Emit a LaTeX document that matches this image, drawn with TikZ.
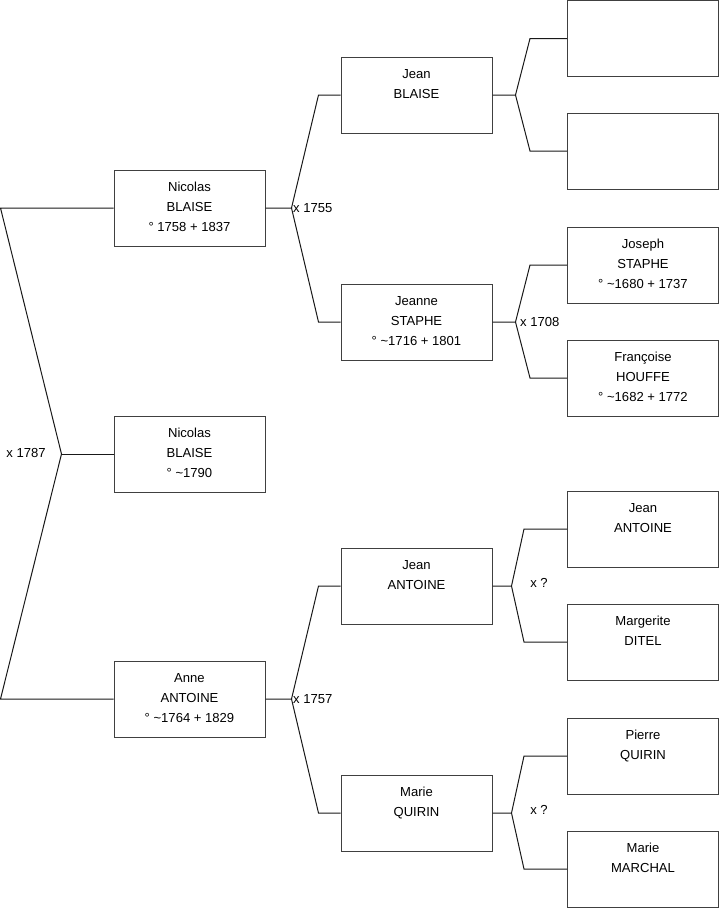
\documentclass[tikz,border=0pt]{standalone}
\usepackage{fontspec}
\setmainfont{Liberation Sans}
\usetikzlibrary{calc}

\newcommand{\lastline}{\rule[-2pt]{0pt}{2pt}}

\begin{document}
\begin{tikzpicture}[x=0.75pt, y=-0.75pt,
    person/.style={rectangle, draw=black!75, line width=0.75pt, minimum width=113.25pt, minimum height=57pt, inner sep=0pt, align=center, font=\fontsize{9.8}{15}\selectfont},
    link/.style={draw=black!90, line width=0.75pt},
    union/.style={inner sep=1pt, font=\fontsize{9.8}{15}\selectfont}]
    \useasboundingbox (0,0) rectangle (719,908);

    % generation 1
    \node[person] (nicolas) at (189.5,208) {Nicolas\\BLAISE\\° 1758 + 1837\lastline};
    \node[person] (child) at (189.5,454) {Nicolas\\BLAISE\\° \textasciitilde1790\lastline};
    \node[person] (anne) at (189.5,699) {Anne\\ANTOINE\\° \textasciitilde1764 + 1829\lastline};

    % generation 2
    \node[person] (jeanb) at (416.5,95) {Jean\\BLAISE\\\lastline};
    \node[person] (jeanne) at (416.5,322) {Jeanne\\STAPHE\\° \textasciitilde1716 + 1801\lastline};
    \node[person] (jeana) at (416.5,586) {Jean\\ANTOINE\\\lastline};
    \node[person] (marie) at (416.5,813) {Marie\\QUIRIN\\\lastline};

    % generation 3
    \node[person] (unk1) at (643,38.5) {};
    \node[person] (unk2) at (643,151) {};
    \node[person] (joseph) at (643,265) {Joseph\\STAPHE\\° \textasciitilde1680 + 1737\lastline};
    \node[person] (francoise) at (643,378) {Françoise\\HOUFFE\\° \textasciitilde1682 + 1772\lastline};
    \node[person] (jeanant) at (643,529) {Jean\\ANTOINE\\\lastline};
    \node[person] (margerite) at (643,642) {Margerite\\DITEL\\\lastline};
    \node[person] (pierre) at (643,756) {Pierre\\QUIRIN\\\lastline};
    \node[person] (mariem) at (643,869) {Marie\\MARCHAL\\\lastline};

    % marriages
    \coordinate (m0) at ($(child.west)+(-52,0)$);
    \draw[link] (nicolas.west) -- ($(nicolas.west)+(-113,0)$) -- (m0) -- ($(anne.west)+(-113,0)$) -- (anne.west);
    \draw[link] (m0) -- (child.west);
    \node[union] (u1787) at (26,453) {x 1787};

    \coordinate (m1) at ($(nicolas.east)+(26,0)$);
    \draw[link] (nicolas.east) -- (m1) -- ($(jeanb.west)+(-22,0)$) -- (jeanb.west);
    \draw[link] (m1) -- ($(jeanne.west)+(-22,0)$) -- (jeanne.west);
    \node[union, anchor=west] (u1755) at (m1) {x 1755};

    \coordinate (m2) at ($(anne.east)+(26,0)$);
    \draw[link] (anne.east) -- (m2) -- ($(jeana.west)+(-22,0)$) -- (jeana.west);
    \draw[link] (m2) -- ($(marie.west)+(-22,0)$) -- (marie.west);
    \node[union, anchor=west] (u1757) at (m2) {x 1757};

    \coordinate (m3) at ($(jeanb.east)+(23,0)$);
    \draw[link] (jeanb.east) -- (m3) -- ($(unk1.west)+(-37,0)$) -- (unk1.west);
    \draw[link] (m3) -- ($(unk2.west)+(-37,0)$) -- (unk2.west);

    \coordinate (m4) at ($(jeanne.east)+(23,0)$);
    \draw[link] (jeanne.east) -- (m4) -- ($(joseph.west)+(-37,0)$) -- (joseph.west);
    \draw[link] (m4) -- ($(francoise.west)+(-37,0)$) -- (francoise.west);
    \node[union, anchor=west] (u1708) at ($(m4)+(3,0)$) {x 1708};

    \coordinate (m5) at ($(jeana.east)+(19,0)$);
    \draw[link] (jeana.east) -- (m5) -- ($(jeanant.west)+(-43,0)$) -- (jeanant.west);
    \draw[link] (m5) -- ($(margerite.west)+(-43,0)$) -- (margerite.west);
    \node[union] (uq1) at (539,583) {x ?};

    \coordinate (m6) at ($(marie.east)+(19,0)$);
    \draw[link] (marie.east) -- (m6) -- ($(pierre.west)+(-43,0)$) -- (pierre.west);
    \draw[link] (m6) -- ($(mariem.west)+(-43,0)$) -- (mariem.west);
    \node[union] (uq2) at (539,810) {x ?};
\end{tikzpicture}
\end{document}
